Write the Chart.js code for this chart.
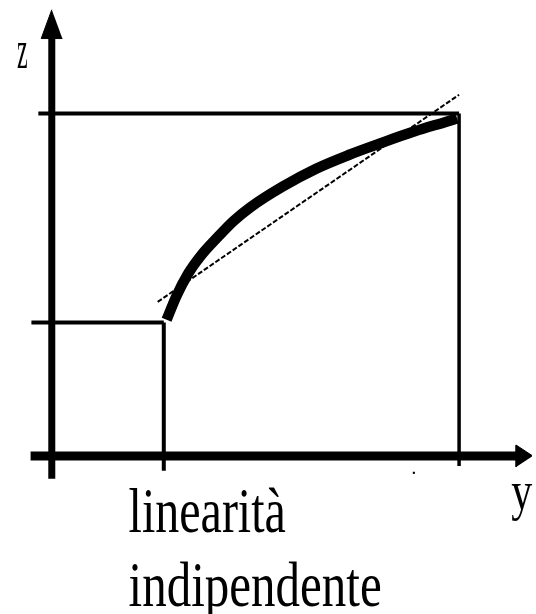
<!DOCTYPE html>
<html>
<head>
<meta charset="utf-8">
<script src="https://cdn.jsdelivr.net/npm/chart.js"></script>
<style>
  body{margin:0;background:#fff;}
  #box{width:536px;height:614px;}
</style>
</head>
<body>
<div id="box"><canvas id="myChart"></canvas></div>
<script>
    // curve z(y), horizontal axis is y, vertical axis is z
    const curveY=[2.82,3.06,3.35,3.66,4.08,4.46,4.87,5.67,6.49,7.29,8.09,8.91,9.71,9.95]
    const curveZ=[3.98,4.67,5.33,5.85,6.40,6.86,7.26,7.87,8.39,8.79,9.14,9.48,9.77,9.86]
    // straight line (linear approx)
    const tangentY=[2.60,10.00]
    const tangentZ=[4.50,10.55]
    // working range
    const y1=2.75, y2=10
    const z1=3.9, z2=10
    const labels=['linearità','indipendente']
    const axisNames=['y','z']

    const pts=(xs,ys)=>xs.map((x,i)=>({x:x,y:ys[i]}))

    const seg=(data,w)=>({data:data,showLine:true,borderColor:'#000',borderWidth:w,
        pointRadius:0,fill:false,tension:0})

    const datasets=[
        // axes
        seg([{x:0,y:-0.66},{x:0,y:12.6}],7),
        seg([{x:-0.52,y:0},{x:11.45,y:0}],9),
        // arrow heads
        {data:[{x:0,y:13.03},{x:-0.26,y:12.19},{x:0.26,y:12.19}],showLine:true,fill:'shape',
            backgroundColor:'#000',borderColor:'#000',borderWidth:1,pointRadius:0},
        {data:[{x:11.81,y:0},{x:11.4,y:0.32},{x:11.4,y:-0.32}],showLine:true,fill:'shape',
            backgroundColor:'#000',borderColor:'#000',borderWidth:1,pointRadius:0},
        // reference lines
        seg([{x:-0.50,y:z1},{x:y1,y:z1}],4),
        seg([{x:y1,y:z1},{x:y1,y:-0.43}],4),
        seg([{x:-0.33,y:z2},{x:y2,y:z2}],4),
        seg([{x:y2,y:z2},{x:y2,y:-0.29}],3.5),
        // tangent
        Object.assign(seg(pts(tangentY,tangentZ),2),{borderDash:[5,2]}),
        // curve
        Object.assign(seg(pts(curveY,curveZ),10.5),{cubicInterpolationMode:'monotone',borderCapStyle:'butt'}),
        // stray dot
        {data:[{x:8.89,y:-0.49}],pointStyle:'rect',pointRadius:1.5,backgroundColor:'#000',borderWidth:0}
    ]

    const textPlugin={
        id:'texts',
        afterDraw(chart){
            const c=chart.ctx, xs=chart.scales.x, ys=chart.scales.y
            const put=(t,x,y,size,sy,align)=>{
                c.save()
                c.translate(xs.getPixelForValue(x),ys.getPixelForValue(y))
                c.scale(1,sy)
                c.font=size+'px "Liberation Serif", "Times New Roman", serif'
                c.fillStyle='#000'
                c.textAlign=align
                c.textBaseline='alphabetic'
                c.fillText(t,0,0)
                c.restore()
            }
            put(labels[0],1.886,-2.205,48,1.3,'left')
            put(labels[1],1.886,-4.38,49,1.3,'left')
            put(axisNames[0],11.28,-1.556,42,1.3,'left')
            put(axisNames[1],-0.725,11.33,24,2.3,'center')
        }
    }

    const ctx=document.getElementById('myChart')
    new Chart(ctx,{
        type:'scatter',
        data:{datasets:datasets},
        options:{
            responsive:true,
            maintainAspectRatio:false,
            animation:false,
            events:[],
            layout:{padding:0},
            plugins:{legend:{display:false},tooltip:{enabled:false}},
            scales:{
                x:{type:'linear',display:false,min:-1.173,max:11.79},
                y:{type:'linear',display:false,min:-4.496,max:13.199}
            }
        },
        plugins:[textPlugin]
    })
</script>
</body>
</html>
